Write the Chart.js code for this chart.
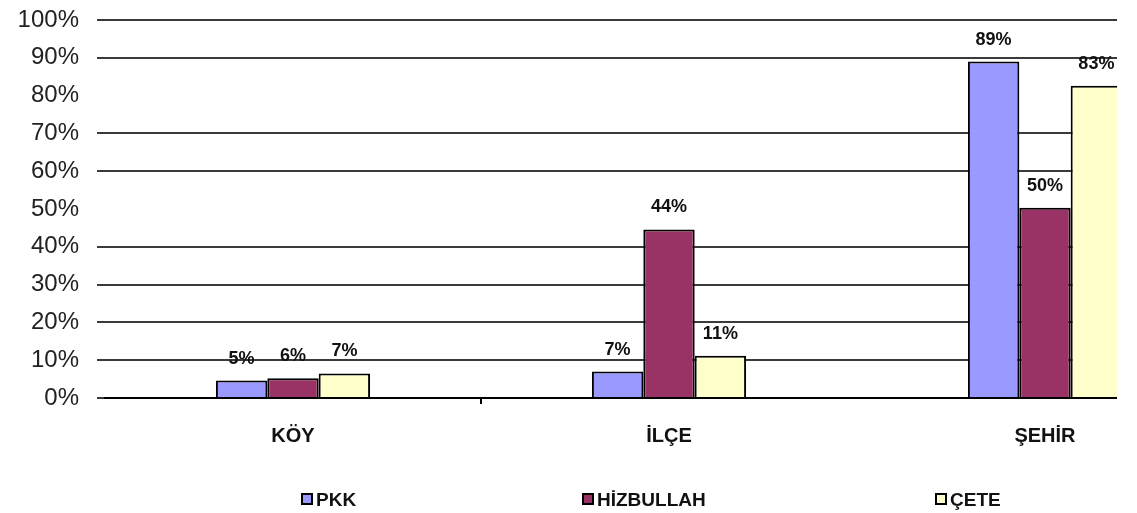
<!DOCTYPE html>
<html>
<head>
<meta charset="utf-8">
<script src="https://cdn.jsdelivr.net/npm/chart.js@4"></script>
<style>
  body { margin: 0; background: #fff; }
  #clip { position: relative; width: 1117px; height: 513px; overflow: hidden; }
  #wrap { position: absolute; left: 0; top: 0; width: 1236px; height: 513px; }
  .leg { position: absolute; top: 489px; font: bold 19px "Liberation Sans", Arial, sans-serif; color: #111; white-space: nowrap; }
  .leg i { display: inline-block; width: 8px; height: 8px; border: 2px solid #000; margin-right: 3px; vertical-align: 1px; }
</style>
</head>
<body>
<div id="clip">
  <div id="wrap"><canvas id="c"></canvas></div>
</div>
<script>
// values (percent)
const categories = ['KÖY', 'İLÇE', 'ŞEHİR'];
const seriesNames = ['PKK', 'HİZBULLAH', 'ÇETE'];
const pkk = [4.6, 7.0, 89.0];
const hizbullah = [5.2, 44.6, 50.3];
const cete = [6.5, 11.2, 82.6];
// the printed labels above the bars
const pkkLabels = ['5%', '7%', '89%'];
const hizbullahLabels = ['6%', '44%', '50%'];
const ceteLabels = ['7%', '11%', '83%'];
const hiddenGrid = [50, 80]; // these lines are missing in the original

const colors = ['#9999FF', '#993366', '#FFFFCC'];
const FONT = '"Liberation Sans", Arial, sans-serif';

const dataLabels = {
  id: 'dataLabels',
  afterDatasetsDraw(chart) {
    const ctx = chart.ctx;
    ctx.save();
    ctx.font = 'bold 18px ' + FONT;
    ctx.fillStyle = '#111';
    ctx.textAlign = 'center';
    ctx.textBaseline = 'middle';
    chart.data.datasets.forEach((ds, i) => {
      chart.getDatasetMeta(i).data.forEach((bar, j) => {
        ctx.fillText(ds.printed[j], bar.x, bar.y - 22);
      });
    });
    ctx.restore();
  }
};

const isHidden = c => c.tick && hiddenGrid.indexOf(c.tick.value) >= 0;

const chart = new Chart(document.getElementById('c'), {
  type: 'bar',
  data: {
    labels: categories,
    datasets: [
      { label: seriesNames[0], data: pkk, printed: pkkLabels },
      { label: seriesNames[1], data: hizbullah, printed: hizbullahLabels },
      { label: seriesNames[2], data: cete, printed: ceteLabels }
    ].map((d, i) => Object.assign(d, {
      backgroundColor: colors[i],
      borderColor: '#000',
      borderWidth: 2,
      barPercentage: 1,
      categoryPercentage: 0.41
    }))
  },
  options: {
    responsive: true,
    maintainAspectRatio: false,
    animation: false,
    layout: { padding: { top: 20, right: 3, left: 0, bottom: 0 } },
    plugins: { legend: { display: false }, tooltip: { enabled: false } },
    scales: {
      x: {
        grid: {
          drawOnChartArea: false,
          drawTicks: true,
          tickLength: 6,
          lineWidth: 2,
          color: c => c.index === 1 ? '#000' : 'rgba(0,0,0,0)'
        },
        border: { display: true, color: '#000', width: 2 },
        ticks: { color: '#111', padding: 20, font: { family: FONT, size: 20, weight: 'bold' } },
        afterFit: s => { s.height = 115; }
      },
      y: {
        min: 0,
        max: 100,
        ticks: {
          stepSize: 10,
          color: '#222',
          padding: 18,
          font: { family: FONT, size: 24 },
          callback: v => v + '%'
        },
        grid: {
          tickLength: 8,
          lineWidth: 2,
          color: c => isHidden(c) ? '#ffffff' : '#3a3a3a'
        },
        border: { display: false },
        afterFit: s => { s.width = 105; s.paddingTop = 0; s.paddingBottom = 0; }
      }
    }
  },
  plugins: [dataLabels]
});

// legend, spread out like the original
const legendLeft = [301, 582, 935];
seriesNames.forEach((name, i) => {
  const el = document.createElement('div');
  el.className = 'leg';
  el.style.left = legendLeft[i] + 'px';
  el.innerHTML = '<i style="background:' + colors[i] + '"></i>' + name;
  document.getElementById('clip').appendChild(el);
});
</script>
</body>
</html>
